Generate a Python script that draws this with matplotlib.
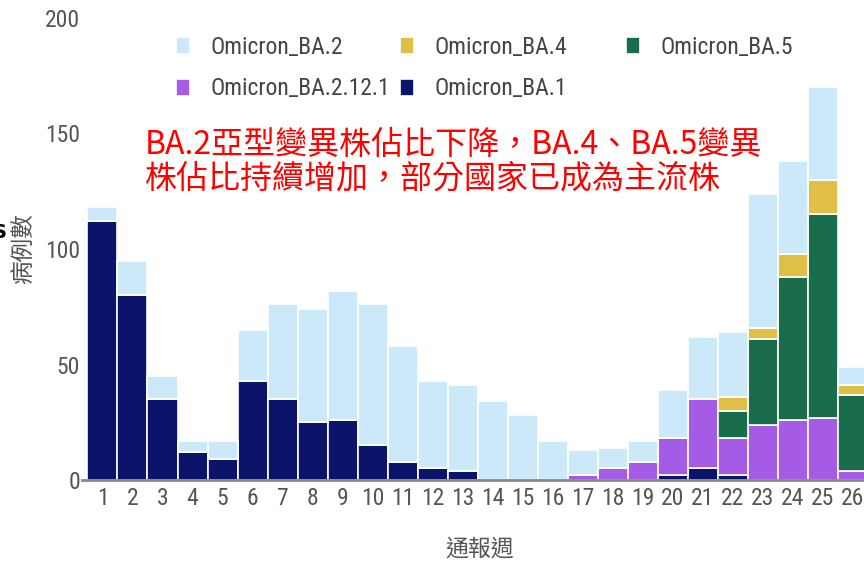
import matplotlib
matplotlib.use("Agg")
import matplotlib.pyplot as plt
from matplotlib import font_manager

# ------------------------------
# Data
# ------------------------------
weeks = list(range(1, 27))
ba1 = [112, 80, 35, 12, 9, 43, 35, 25, 26, 15, 8, 5, 4, 0, 0, 0, 0, 0, 0, 2, 5, 2, 0, 0, 0, 0]
ba2_12_1 = [0] * 16 + [2, 5, 8, 16, 30, 16, 24, 26, 27, 4]
ba5 = [0] * 21 + [12, 37, 62, 88, 33]
ba4 = [0] * 21 + [6, 5, 10, 15, 4]
ba2 = [6, 15, 10, 5, 8, 22, 41, 49, 56, 61, 50, 38, 37, 34, 28, 17, 11, 9, 9, 21, 27, 28, 58, 40, 40, 8]

series = [
    ("Omicron_BA.1", ba1, "#0c136a"),
    ("Omicron_BA.2.12.1", ba2_12_1, "#a55be6"),
    ("Omicron_BA.5", ba5, "#196d4b"),
    ("Omicron_BA.4", ba4, "#e0bf47"),
    ("Omicron_BA.2", ba2, "#cce9fa"),
]

note = "BA.2亞型變異株佔比下降，BA.4、BA.5變異\n株佔比持續增加，部分國家已成為主流株"

# ------------------------------
# Fonts
# ------------------------------
installed = {f.name for f in font_manager.fontManager.ttflist}
latin = "DejaVu Sans"
latin_size = 12.5
for cand in ["Roboto Condensed", "Liberation Sans Narrow", "Open Sans Condensed", "Noto Sans Condensed"]:
    if cand in installed:
        latin = cand
        latin_size = 17
        break
cjk = ["Noto Sans CJK TC", "DejaVu Sans"]

W, H = 864, 563
fig = plt.figure(figsize=(W / 100, H / 100), dpi=100)
ax = fig.add_axes([82 / W, 83 / H, 782 / W, 462 / H])

bottom = [0] * len(weeks)
containers = {}
for name, vals, color in series:
    bars = ax.bar(weeks, vals, width=1.0, bottom=bottom, color=color,
                  edgecolor="white", linewidth=1.2, label=name)
    containers[name] = bars
    bottom = [b + v for b, v in zip(bottom, vals)]

ax.set_xlim(0.317, 26.38)
ax.set_ylim(0, 200)
ax.set_xticks(weeks)
ax.set_yticks([0, 50, 100, 150, 200])
for s in ["left", "right", "top"]:
    ax.spines[s].set_visible(False)
ax.spines["bottom"].set_color("#888888")
ax.spines["bottom"].set_linewidth(2)
ax.tick_params(axis="x", length=0, pad=5, labelsize=latin_size, labelcolor="#555555")
ax.tick_params(axis="y", length=0, pad=1.5, labelsize=latin_size, labelcolor="#555555")
for lab in ax.get_xticklabels() + ax.get_yticklabels():
    lab.set_family(latin)

# legend laid out in three fixed-width columns
leg_prop = {"family": latin, "size": latin_size}
cols = [
    (176, ["Omicron_BA.2", "Omicron_BA.2.12.1"]),
    (400, ["Omicron_BA.4", "Omicron_BA.1"]),
    (626, ["Omicron_BA.5"]),
]
for x0, names in cols:
    fig.legend([containers[n] for n in names], names, loc="upper left",
               bbox_to_anchor=(x0 / W, 1 - 36 / H), frameon=False,
               borderpad=0, borderaxespad=0, handlelength=0.6, handleheight=0.75,
               handletextpad=0.85, labelspacing=0.78, prop=leg_prop,
               labelcolor="#444444")

fig.text(145 / W, 1 - 129 / H, note, va="top", ha="left", fontsize=23,
         color="red", family=cjk, linespacing=1.05)
fig.text(24 / W, 1 - 249 / H, "病例數", rotation=90, ha="center", va="center",
         fontsize=17, color="#555555", family=cjk)
fig.text(480 / W, 1 - 549 / H, "通報週", ha="center", va="center",
         fontsize=16.5, color="#555555", family=cjk)
fig.text(0, 1 - 232 / H, "S", ha="center", va="center", fontsize=14,
         color="black", fontweight="bold")

fig.savefig("out.png", dpi=100)
